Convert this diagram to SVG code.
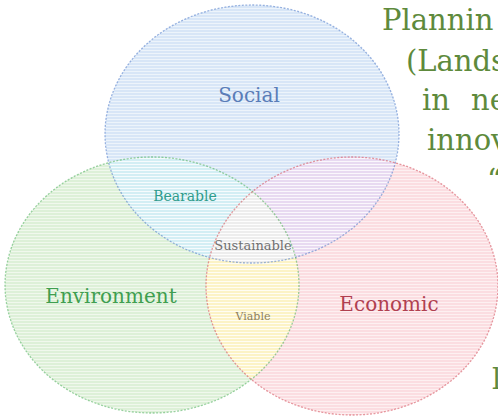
<svg xmlns="http://www.w3.org/2000/svg" width="498" height="418" viewBox="0 0 498 418">
  <style>
    .lbl { font-family: "DejaVu Serif", "Liberation Serif", serif; text-anchor: middle; }
    .side { font-family: "DejaVu Serif", "Liberation Serif", serif; font-size: 29px; fill: #5e8a3c; }
    .edge { fill: none; stroke-width: 1.3; stroke-dasharray: 2 1.5; }
  </style>
  <defs>
    <clipPath id="cBlue"><ellipse cx="252" cy="134" rx="147" ry="129"/></clipPath>
    <clipPath id="cGreen"><ellipse cx="152" cy="285" rx="147" ry="128"/></clipPath>
    <clipPath id="cRed"><ellipse cx="352" cy="286" rx="146" ry="129"/></clipPath>
    <pattern id="hatch" width="6" height="3" patternUnits="userSpaceOnUse">
      <rect x="0" y="2" width="6" height="1" fill="#ffffff" fill-opacity="0.55"/>
    </pattern>
  </defs>
  <rect width="498" height="418" fill="#ffffff"/>

  <g id="social">
    <ellipse cx="252" cy="134" rx="147" ry="129" fill="#d8e6f7"/>
  </g>
  <g id="environment">
    <ellipse cx="152" cy="285" rx="147" ry="128" fill="#ddf0d8"/>
  </g>
  <g id="economic">
    <ellipse cx="352" cy="286" rx="146" ry="129" fill="#fbdde1"/>
  </g>

  <g id="overlaps">
    <g clip-path="url(#cGreen)"><ellipse cx="252" cy="134" rx="147" ry="129" fill="#d3eef4"/></g>
    <g clip-path="url(#cRed)"><ellipse cx="252" cy="134" rx="147" ry="129" fill="#e8daf1"/></g>
    <g clip-path="url(#cRed)"><ellipse cx="152" cy="285" rx="147" ry="128" fill="#fcf3c6"/></g>
    <g clip-path="url(#cRed)"><g clip-path="url(#cGreen)"><ellipse cx="252" cy="134" rx="147" ry="129" fill="#ededed"/></g></g>
  </g>

  <g id="texture">
    <ellipse cx="252" cy="134" rx="147" ry="129" fill="url(#hatch)"/>
    <ellipse cx="152" cy="285" rx="147" ry="128" fill="url(#hatch)"/>
    <ellipse cx="352" cy="286" rx="146" ry="129" fill="url(#hatch)"/>
  </g>

  <g id="edges">
    <ellipse class="edge" cx="252" cy="134" rx="147" ry="129" stroke="#4a78c8" stroke-opacity="0.55"/>
    <ellipse class="edge" cx="152" cy="285" rx="147" ry="128" stroke="#3aa84a" stroke-opacity="0.5"/>
    <ellipse class="edge" cx="352" cy="286" rx="146" ry="129" stroke="#d03a48" stroke-opacity="0.5"/>
  </g>

  <g id="labels">
    <text class="lbl" x="249" y="102" font-size="20" fill="#5a7db8">Social</text>
    <text class="lbl" x="111" y="303" font-size="20" fill="#3f9e50">Environment</text>
    <text class="lbl" x="389" y="311" font-size="20" fill="#b04050">Economic</text>
    <text class="lbl" x="185" y="201" font-size="14" fill="#2f9c8c">Bearable</text>
    <text class="lbl" x="253" y="250" font-size="13" fill="#707070">Sustainable</text>
    <text class="lbl" x="253" y="320" font-size="11" fill="#8c8060">Viable</text>
  </g>

  <g id="side-text">
    <text class="side" x="382" y="30">Plannin</text>
    <text class="side" x="406" y="71">(Lands</text>
    <text class="side" y="110"><tspan x="422">in</tspan><tspan x="471">ne</tspan></text>
    <text class="side" x="427" y="150">innov</text>
    <text class="side" x="487" y="190">“</text>
    <text class="side" x="492" y="389">l</text>
  </g>
</svg>
